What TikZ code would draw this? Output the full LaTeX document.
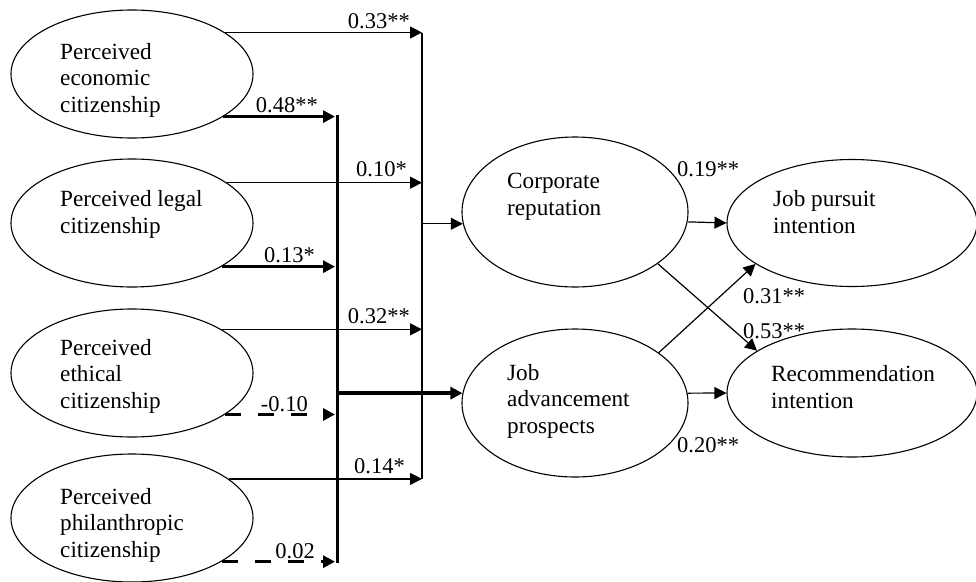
\documentclass[tikz,border=0pt]{standalone}
\usepackage{fontspec}
\setmainfont{Liberation Serif}
\usetikzlibrary{arrows.meta,shapes.geometric}
\begin{document}
\begin{tikzpicture}[x=1pt,y=-1pt,
  ell/.style={draw,ellipse,line width=1.1pt,inner sep=0pt},
  lell/.style={ell,minimum width=242pt,minimum height=128pt},
  txt/.style={align=left,inner sep=0pt,anchor=base west,font=\fontsize{23.2}{26.5}\selectfont},
  lbl/.style={inner sep=0pt,font=\fontsize{22.5}{26}\selectfont},
  tip/.style={-{Triangle[length=12pt,width=12pt]}},
  thinarr/.style={line width=1.2pt,tip},
  thickarr/.style={line width=3.6pt,tip},
  dasharr/.style={thickarr,dash pattern=on 16pt off 17pt}]
\useasboundingbox (0,0) rectangle (976,581);

% left ellipses
\node[lell] (e1) at (132,74) {};
\node[lell] (e2) at (132,223) {};
\node[lell] (e3) at (132,373) {};
\node[lell] (e4) at (132,518) {};
\node[txt] (t1) at (60,112) {Perceived\\economic\\citizenship};
\node[txt] (t2) at (60,233) {Perceived legal\\citizenship};
\node[txt] (t3) at (60,408) {Perceived\\ethical\\citizenship};
\node[txt] (t4) at (60,557) {Perceived\\philanthropic\\citizenship};

% middle ellipses
\node[ell,minimum width=226pt,minimum height=150pt] (corp) at (575,212) {};
\node[ell,minimum width=226pt,minimum height=148pt] (jadv) at (575,403) {};
\node[txt] (tc) at (507,215) {Corporate\\reputation};
\node[txt] (tj) at (507,433) {Job\\advancement\\prospects};

% right ellipses
\node[ell,minimum width=250pt,minimum height=127pt] (jp) at (852,223) {};
\node[ell,minimum width=250pt,minimum height=128pt] (rec) at (852,393) {};
\node[txt] (tjp) at (773,233) {Job pursuit\\intention};
\node[txt] (trec) at (771,408) {Recommendation\\intention};

% junction columns
\coordinate (tv) at (422,0);
\coordinate (TV) at (337.5,0);
\coordinate (TE) at (335,0);

% thin arrows to thin column
\draw[thinarr] (e1.24.7) -- (e1.24.7 -| tv);
\draw[thinarr] (e2.23.8) -- (e2.23.8 -| tv);
\draw[thinarr] (e3.26.6) -- (e3.26.6 -| tv);
\draw[thinarr] (e4.22.9) -- (e4.22.9 -| tv);
\draw[line width=1.2pt] (tv |- e1.24.7) -- (tv |- e4.22.9);
\draw[thinarr] (tv |- corp.186) -- (corp.186);

% thick arrows to thick column
\draw[thickarr] (e1.-25.6) -- (e1.-25.6 -| TE);
\draw[thickarr] (e2.-26.6) -- (e2.-26.6 -| TE);
\draw[dasharr] (e3.-24.7) -- (e3.-24.7 -| TE);
\draw[dasharr] (e4.-26.6) -- (e4.-26.6 -| TE);
\draw[line width=3.6pt] ([yshift=1.8pt]TV |- e1.-25.6) -- ([yshift=-1.8pt]TV |- e4.-26.6);
\draw[thickarr] (TV |- jadv.175.4) -- (jadv.175.4);

% right side
\draw[thinarr] (corp.-5.6) -- (jp.west);
\draw[thinarr] (jadv.5.1) -- (rec.west);
\draw[thinarr] (corp.-32) -- (rec.156.5);
\draw[thinarr] (jadv.31.6) -- (jp.203.5);

% labels
\node[lbl,anchor=base east] (l1) at (410,28) {0.33**};
\node[lbl,anchor=base east] (l2) at (318,112) {0.48**};
\node[lbl,anchor=base east] (l3) at (407,176) {0.10*};
\node[lbl,anchor=base east] (l4) at (315,262) {0.13*};
\node[lbl,anchor=base east] (l5) at (410,323) {0.32**};
\node[lbl,anchor=base east] (l6) at (308,411) {-0.10};
\node[lbl,anchor=base east] (l7) at (405,473) {0.14*};
\node[lbl,anchor=base east] (l8) at (315,558) {0.02};
\node[lbl,anchor=base west] (l9) at (677,176) {0.19**};
\node[lbl,anchor=base west] (l10) at (743,303) {0.31**};
\node[lbl,anchor=base west] (l11) at (743,338) {0.53**};
\node[lbl,anchor=base west] (l12) at (677,452) {0.20**};
\end{tikzpicture}
\end{document}
